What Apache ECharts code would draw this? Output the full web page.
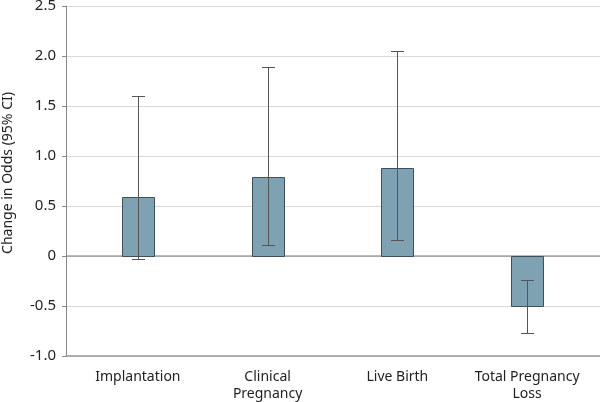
<!DOCTYPE html>
<html>
<head>
<meta charset="utf-8">
<script src="https://cdn.jsdelivr.net/npm/echarts@6/dist/echarts.min.js"></script>
<style>html,body{margin:0;padding:0;background:#fff;}#c{width:600px;height:402px;}</style>
</head>
<body>
<div id="c"></div>
<script>
const categories = ['Implantation', 'Clinical\nPregnancy', 'Live Birth', 'Total Pregnancy\nLoss'];
const estimates = [0.59, 0.79, 0.88, -0.50];
const lowerCI = [-0.03, 0.11, 0.16, -0.77];
const upperCI = [1.60, 1.89, 2.05, -0.24];
const yMin = -1.0, yMax = 2.5, yStep = 0.5;
const yName = 'Change in Odds (95% CI)';

const FONT = '"Noto Sans", "Open Sans", sans-serif';
const chart = echarts.init(document.getElementById('c'), null, {renderer: 'canvas'});

const seriesData = categories.map((c, i) => [i, estimates[i], lowerCI[i], upperCI[i]]);

chart.setOption({
  animation: false,
  backgroundColor: '#fff',
  grid: [
    {left: 66, right: 0, top: 6, bottom: 46, outerBoundsMode: 'none', containLabel: false},
    {left: 73, right: 8, top: 6, bottom: 46, outerBoundsMode: 'none', containLabel: false}
  ],
  xAxis: [
    {gridIndex: 0, type: 'value', min: 0, max: 1,
     axisLine: {show: true, onZero: false, lineStyle: {color: '#999', width: 1.5}},
     axisTick: {show: false}, axisLabel: {show: false}, splitLine: {show: false}},
    {gridIndex: 1, type: 'category', data: categories,
     axisLine: {show: false}, axisTick: {show: false},
     axisLabel: {interval: 0, margin: 13, fontSize: 14, lineHeight: 16.5, color: '#222', fontFamily: FONT}}
  ],
  yAxis: [
    {gridIndex: 0, type: 'value', min: yMin, max: yMax, interval: yStep,
     name: yName, nameLocation: 'middle', nameGap: 51,
     nameTextStyle: {fontSize: 14, color: '#222', fontFamily: FONT, padding: [0, 0, 0, 16]},
     axisLine: {show: true, lineStyle: {color: '#888'}},
     axisTick: {show: true, length: 4, lineStyle: {color: '#888'}},
     axisLabel: {margin: 10, fontSize: 15, color: '#222', fontFamily: FONT,
       formatter: v => (Math.abs(v) < 1e-9 ? '0' : v.toFixed(1))},
     splitLine: {show: true, lineStyle: {color: '#d9d9d9', width: 1}}},
    {gridIndex: 1, type: 'value', min: yMin, max: yMax, interval: yStep, show: false,
     splitLine: {show: false}}
  ],
  series: [
    {type: 'line', xAxisIndex: 0, yAxisIndex: 0, data: [[0, 0], [1, 0]],
     symbol: 'none', lineStyle: {color: '#777', width: 1}, z: 1, silent: true},
    {type: 'custom', xAxisIndex: 1, yAxisIndex: 1, data: seriesData, z: 3,
     renderItem: function (params, api) {
       const x = api.value(0);
       const base = api.coord([x, 0]);
       const top = api.coord([x, api.value(1)]);
       const lo = api.coord([x, api.value(2)]);
       const hi = api.coord([x, api.value(3)]);
       const cx = Math.round(base[0]) + 0.5;
       const bw = 32;
       const y0 = Math.round(Math.min(base[1], top[1])) + 0.5;
       const y1 = Math.round(Math.max(base[1], top[1])) + 0.5;
       const hw = 6.5;
       const st = {stroke: '#555', lineWidth: 1};
       const ly = Math.round(lo[1]) + 0.5, hy = Math.round(hi[1]) + 0.5;
       return {type: 'group', children: [
         {type: 'rect', shape: {x: cx - bw / 2, y: y0, width: bw, height: y1 - y0},
          style: {fill: '#7fa2b3', stroke: '#3e4f58', lineWidth: 1}},
         {type: 'line', shape: {x1: cx, y1: ly, x2: cx, y2: hy}, style: st},
         {type: 'line', shape: {x1: cx - hw, y1: ly, x2: cx + hw, y2: ly}, style: st},
         {type: 'line', shape: {x1: cx - hw, y1: hy, x2: cx + hw, y2: hy}, style: st}
       ]};
     }}
  ]
});
</script>
</body>
</html>
